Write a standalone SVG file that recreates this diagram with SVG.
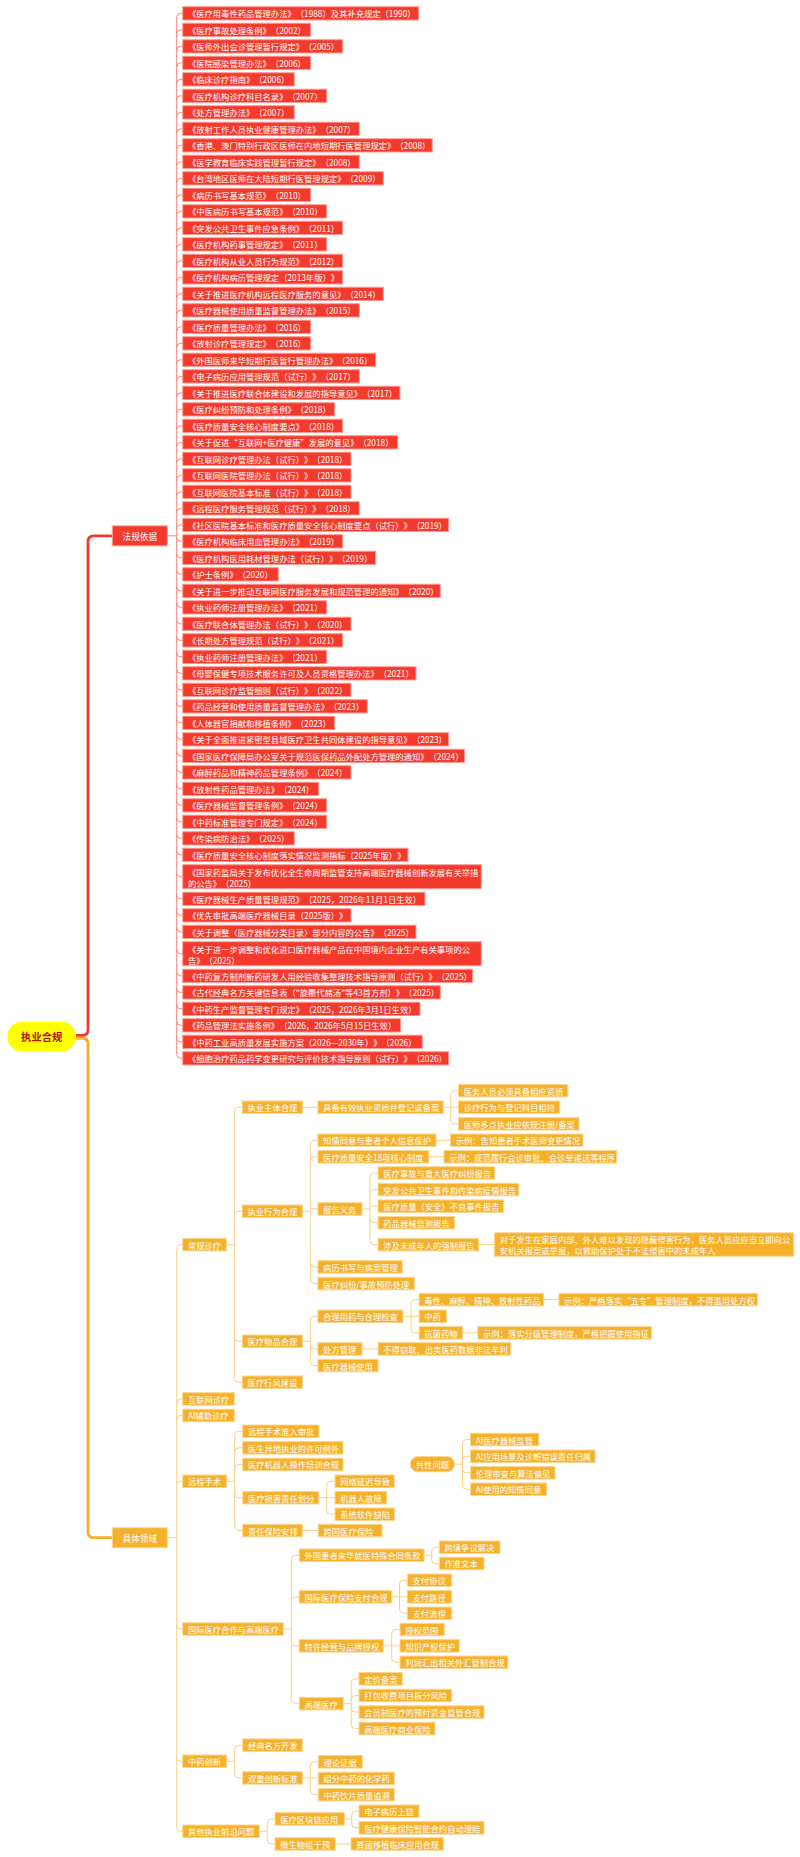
<svg xmlns="http://www.w3.org/2000/svg" width="800" height="1857" viewBox="0 0 800 1857">
<style>
.rn{fill:#f43a2d;stroke:#fb9e97;stroke-width:1}
.yn{fill:#f6b12c;stroke:#fbd690;stroke-width:1}
text{font-family:"Noto Sans CJK SC","Noto Sans",sans-serif;font-size:8.3px;fill:#fff;dominant-baseline:central;text-spacing-trim:space-all;font-feature-settings:"halt" 0,"chws" 0}
.l1{font-size:8.6px;text-anchor:middle}
.rt{font-size:10.3px;font-weight:bold;fill:#b3121b;text-anchor:middle}
.cr{fill:none;stroke:#f6857c;stroke-width:1}
.cy{fill:none;stroke:#fbd085;stroke-width:1}
</style>
<rect width="800" height="1857" fill="#fff"/>
<g id="connectors">
<path d="M76,1035.5H82Q88,1035.5 88,1029.5V541.85Q88,535.85 94,535.85H112.3" fill="none" stroke="#f03a2c" stroke-width="2.8"/>
<path d="M76,1038H82Q88,1038 88,1044V1531.7Q88,1537.7 94,1537.7H112.3" fill="none" stroke="#f5ae2a" stroke-width="2.8"/>
<path class="cr" d="M167.3,535.85H176.7M176.7,17.35V1054.35
M176.7,17.35q0,-4 4,-4h2M176.7,33.850q0,-4 4,-4h2M176.7,50.35q0,-4 4,-4h2M176.7,66.85q0,-4 4,-4h2M176.7,83.35q0,-4 4,-4h2M176.7,99.85q0,-4 4,-4h2M176.7,116.35q0,-4 4,-4h2M176.7,132.85q0,-4 4,-4h2M176.7,149.35q0,-4 4,-4h2M176.7,165.85q0,-4 4,-4h2M176.7,182.35q0,-4 4,-4h2M176.7,198.85q0,-4 4,-4h2M176.7,215.35q0,-4 4,-4h2M176.7,231.85q0,-4 4,-4h2M176.7,248.35q0,-4 4,-4h2M176.7,264.85q0,-4 4,-4h2M176.7,281.35q0,-4 4,-4h2M176.7,297.85q0,-4 4,-4h2M176.7,314.35q0,-4 4,-4h2M176.7,330.85q0,-4 4,-4h2M176.7,347.35q0,-4 4,-4h2M176.7,363.85q0,-4 4,-4h2M176.7,380.35q0,-4 4,-4h2M176.7,396.85q0,-4 4,-4h2M176.7,413.35q0,-4 4,-4h2M176.7,429.85q0,-4 4,-4h2M176.7,446.35q0,-4 4,-4h2M176.7,462.85q0,-4 4,-4h2M176.7,479.35q0,-4 4,-4h2M176.7,495.85q0,-4 4,-4h2M176.7,512.35q0,-4 4,-4h2M176.7,528.85q0,-4 4,-4h2
M176.7,537.35q0,4 4,4h2M176.7,553.85q0,4 4,4h2M176.7,570.35q0,4 4,4h2M176.7,586.85q0,4 4,4h2M176.7,603.35q0,4 4,4h2M176.7,619.85q0,4 4,4h2M176.7,636.35q0,4 4,4h2M176.7,652.85q0,4 4,4h2M176.7,669.35q0,4 4,4h2M176.7,685.85q0,4 4,4h2M176.7,702.35q0,4 4,4h2M176.7,718.85q0,4 4,4h2M176.7,735.35q0,4 4,4h2M176.7,751.85q0,4 4,4h2M176.7,768.35q0,4 4,4h2M176.7,784.85q0,4 4,4h2M176.7,801.35q0,4 4,4h2M176.7,817.85q0,4 4,4h2M176.7,834.35q0,4 4,4h2M176.7,850.85q0,4 4,4h2M176.7,872.7q0,4 4,4h2M176.7,894.85q0,4 4,4h2M176.7,911.35q0,4 4,4h2M176.7,927.85q0,4 4,4h2M176.7,949.7q0,4 4,4h2M176.7,971.85q0,4 4,4h2M176.7,988.35q0,4 4,4h2M176.7,1004.85q0,4 4,4h2M176.7,1021.35q0,4 4,4h2M176.7,1037.85q0,4 4,4h2M176.7,1054.35q0,4 4,4h2"/>
<path class="cy" d="M167.3,1537.7H176.7M176.7,1248.65V1827.25M176.7,1248.65q0,-4 4,-4H182.7M176.7,1402.95q0,-4 4,-4H182.7M176.7,1419.45q0,-4 4,-4H182.7M176.7,1485.25q0,-4 4,-4H182.7M176.7,1625.05q0,4 4,4H182.7M176.7,1757.25q0,4 4,4H182.7M176.7,1827.25q0,4 4,4H182.7
M226.3,1244.65H234.3M234.3,1111.25V1378.25M234.3,1111.25q0,-4 4,-4H242.3M234.3,1215.25q0,-4 4,-4H242.3M234.3,1337.25q0,4 4,4H242.3M234.3,1378.25q0,4 4,4H242.3
M302.6,1107.25H317.9
M443.2,1107.25H458.5M450.8,1094.65V1119.85M450.8,1094.65q0,-4 4,-4H458.5M450.8,1119.85q0,4 4,4H458.5
M302.6,1211.25H310.3M310.3,1144.25V1279.55M310.3,1144.25q0,-4 4,-4H317.9M310.3,1160.75q0,-4 4,-4H317.9M310.3,1208.95H317.9M310.3,1262.95q0,4 4,4H317.9M310.3,1279.55q0,4 4,4H317.9
M436,1140.25H450.5M428.8,1156.75H444
M362,1208.95H370M370,1176.95V1240.65M370,1176.95q0,-4 4,-4H378.1M370,1193.55q0,-4 4,-4H378.1M370,1206.15H378.1M370,1218.75q0,4 4,4H378.1M370,1240.65q0,4 4,4H378.1
M478.6,1244.65H494.6
M302.6,1341.25H310.3M310.3,1320.25V1361.55M310.3,1320.25q0,-4 4,-4H317.9M310.3,1344.95q0,4 4,4H317.9M310.3,1361.55q0,4 4,4H317.9
M403,1316.25H419.1M411,1303.65V1328.85M411,1303.65q0,-4 4,-4H419.1M411,1328.85q0,4 4,4H419.1
M543.7,1299.65H558.9M462.5,1332.85H477.8M362,1348.95H378.1
M226.7,1481.25H234.7M234.7,1435.25V1526.55M234.7,1435.25q0,-4 4,-4H242.7M234.7,1451.85q0,-4 4,-4H242.7M234.7,1468.45q0,-4 4,-4H242.7M234.7,1493.75q0,4 4,4H242.7M234.7,1526.55q0,4 4,4H242.7
M318.7,1497.75H335M326.8,1485.25V1510.25M326.8,1485.25q0,-4 4,-4H335M326.8,1510.25q0,4 4,4H335
M302.3,1530.55H318.3
M454.5,1464.2H462.5M462.5,1443.55V1485.25M462.5,1443.55q0,-4 4,-4H470.5M462.5,1460.25q0,-4 4,-4H470.5M462.5,1468.85q0,4 4,4H470.5M462.5,1485.25q0,4 4,4H470.5
M283.3,1629.05H291.3M291.3,1559.25V1699.65M291.3,1559.25q0,-4 4,-4H299.3M291.3,1600.85q0,-4 4,-4H299.3M291.3,1641.85q0,4 4,4H299.3M291.3,1699.65q0,4 4,4H299.3
M424,1555.25H431.7M431.7,1551.25V1559.45M431.7,1551.25q0,-4 4,-4H439.3M431.7,1559.45q0,4 4,4H439.3
M391.7,1596.85H407.3M399.5,1584.25V1609.25M399.5,1584.25q0,-4 4,-4H407.3M399.5,1609.25q0,4 4,4H407.3
M383.3,1645.85H400M391.7,1633.55V1658.25M391.7,1633.55q0,-4 4,-4H400M391.7,1658.25q0,4 4,4H400
M343.3,1703.65H351.2M351.2,1682.85V1724.55M351.2,1682.85q0,-4 4,-4H359M351.2,1699.45q0,-4 4,-4H359M351.2,1708.05q0,4 4,4H359M351.2,1724.55q0,4 4,4H359
M226.7,1761.25H234.7M234.7,1749.15V1773.95M234.7,1749.15q0,-4 4,-4H242.7M234.7,1773.95q0,4 4,4H242.7
M302.3,1777.95H318.3M310.3,1765.85V1790.65M310.3,1765.85q0,-4 4,-4H318.3M310.3,1790.65q0,4 4,4H318.3
M259.3,1831.25H267.2M267.2,1822.95V1839.95M267.2,1822.95q0,-4 4,-4H275M267.2,1839.95q0,4 4,4H275
M344.3,1818.95H351.7M351.7,1815.25V1823.85M351.7,1815.25q0,-4 4,-4H359M351.7,1823.85q0,4 4,4H359
M335.3,1843.95H351"/>
</g>
<g id="root"><rect x="7.3" y="1021.7" width="68.7" height="30" rx="15" fill="#ffff00"/><text class="rt" x="41.7" y="1036.7">执业合规</text></g>
<g id="fagui"><rect class="rn" x="112.3" y="525.85" width="55" height="20"/><text class="l1" x="139.8" y="535.85">法规依据</text></g>
<g id="juti"><rect class="yn" x="112.3" y="1527.7" width="55" height="20"/><text class="l1" x="139.8" y="1537.7">具体领域</text></g>
<g id="r1"><rect class="rn" x="182.7" y="6.7" width="236" height="13.3"/><text x="187.9" y="13.35">《医疗用毒性药品管理办法》（1988）及其补充规定（1990）</text></g>
<g id="r2"><rect class="rn" x="182.7" y="23.2" width="128" height="13.3"/><text x="187.9" y="29.85">《医疗事故处理条例》（2002）</text></g>
<g id="r3"><rect class="rn" x="182.7" y="39.7" width="160" height="13.3"/><text x="187.9" y="46.35">《医师外出会诊管理暂行规定》（2005）</text></g>
<g id="r4"><rect class="rn" x="182.7" y="56.2" width="128" height="13.3"/><text x="187.9" y="62.85">《医院感染管理办法》（2006）</text></g>
<g id="r5"><rect class="rn" x="182.7" y="72.7" width="111.6" height="13.3"/><text x="187.9" y="79.35">《临床诊疗指南》（2006）</text></g>
<g id="r6"><rect class="rn" x="182.7" y="89.2" width="144" height="13.3"/><text x="187.9" y="95.85">《医疗机构诊疗科目名录》（2007）</text></g>
<g id="r7"><rect class="rn" x="182.7" y="105.7" width="111.6" height="13.3"/><text x="187.9" y="112.35">《处方管理办法》（2007）</text></g>
<g id="r8"><rect class="rn" x="182.7" y="122.2" width="176.6" height="13.3"/><text x="187.9" y="128.85">《放射工作人员执业健康管理办法》（2007）</text></g>
<g id="r9"><rect class="rn" x="182.7" y="138.7" width="249.6" height="13.3"/><text x="187.9" y="145.35">《香港、澳门特别行政区医师在内地短期行医管理规定》（2008）</text></g>
<g id="r10"><rect class="rn" x="182.7" y="155.2" width="176.6" height="13.3"/><text x="187.9" y="161.85">《医学教育临床实践管理暂行规定》（2008）</text></g>
<g id="r11"><rect class="rn" x="182.7" y="171.7" width="200.6" height="13.3"/><text x="187.9" y="178.35">《台湾地区医师在大陆短期行医管理规定》（2009）</text></g>
<g id="r12"><rect class="rn" x="182.7" y="188.2" width="128" height="13.3"/><text x="187.9" y="194.85">《病历书写基本规范》（2010）</text></g>
<g id="r13"><rect class="rn" x="182.7" y="204.7" width="144" height="13.3"/><text x="187.9" y="211.35">《中医病历书写基本规范》（2010）</text></g>
<g id="r14"><rect class="rn" x="182.7" y="221.2" width="160" height="13.3"/><text x="187.9" y="227.85">《突发公共卫生事件应急条例》（2011）</text></g>
<g id="r15"><rect class="rn" x="182.7" y="237.7" width="144" height="13.3"/><text x="187.9" y="244.35">《医疗机构药事管理规定》（2011）</text></g>
<g id="r16"><rect class="rn" x="182.7" y="254.2" width="160" height="13.3"/><text x="187.9" y="260.85">《医疗机构从业人员行为规范》（2012）</text></g>
<g id="r17"><rect class="rn" x="182.7" y="270.7" width="160" height="13.3"/><text x="187.9" y="277.35">《医疗机构病历管理规定（2013年版）》</text></g>
<g id="r18"><rect class="rn" x="182.7" y="287.2" width="200.6" height="13.3"/><text x="187.9" y="293.85">《关于推进医疗机构远程医疗服务的意见》（2014）</text></g>
<g id="r19"><rect class="rn" x="182.7" y="303.7" width="176.6" height="13.3"/><text x="187.9" y="310.35">《医疗器械使用质量监督管理办法》（2015）</text></g>
<g id="r20"><rect class="rn" x="182.7" y="320.2" width="128" height="13.3"/><text x="187.9" y="326.85">《医疗质量管理办法》（2016）</text></g>
<g id="r21"><rect class="rn" x="182.7" y="336.7" width="128" height="13.3"/><text x="187.9" y="343.35">《放射诊疗管理规定》（2016）</text></g>
<g id="r22"><rect class="rn" x="182.7" y="353.2" width="193" height="13.3"/><text x="187.9" y="359.85">《外国医师来华短期行医暂行管理办法》（2016）</text></g>
<g id="r23"><rect class="rn" x="182.7" y="369.7" width="176.6" height="13.3"/><text x="187.9" y="376.35">《电子病历应用管理规范（试行）》（2017）</text></g>
<g id="r24"><rect class="rn" x="182.7" y="386.2" width="217.3" height="13.3"/><text x="187.9" y="392.85">《关于推进医疗联合体建设和发展的指导意见》（2017）</text></g>
<g id="r25"><rect class="rn" x="182.7" y="402.7" width="152" height="13.3"/><text x="187.9" y="409.35">《医疗纠纷预防和处理条例》（2018）</text></g>
<g id="r26"><rect class="rn" x="182.7" y="419.2" width="160" height="13.3"/><text x="187.9" y="425.85">《医疗质量安全核心制度要点》（2018）</text></g>
<g id="r27"><rect class="rn" x="182.7" y="435.7" width="215" height="13.3"/><text x="187.9" y="442.35">《关于促进“互联网+医疗健康”发展的意见》（2018）</text></g>
<g id="r28"><rect class="rn" x="182.7" y="452.2" width="168.3" height="13.3"/><text x="187.9" y="458.85">《互联网诊疗管理办法（试行）》（2018）</text></g>
<g id="r29"><rect class="rn" x="182.7" y="468.7" width="168.3" height="13.3"/><text x="187.9" y="475.35">《互联网医院管理办法（试行）》（2018）</text></g>
<g id="r30"><rect class="rn" x="182.7" y="485.2" width="168.3" height="13.3"/><text x="187.9" y="491.85">《互联网医院基本标准（试行）》（2018）</text></g>
<g id="r31"><rect class="rn" x="182.7" y="501.7" width="176.6" height="13.3"/><text x="187.9" y="508.35">《远程医疗服务管理规范（试行）》（2018）</text></g>
<g id="r32"><rect class="rn" x="182.7" y="518.2" width="266" height="13.3"/><text x="187.9" y="524.85">《社区医院基本标准和医疗质量安全核心制度要点（试行）》（2019）</text></g>
<g id="r33"><rect class="rn" x="182.7" y="534.7" width="160" height="13.3"/><text x="187.9" y="541.35">《医疗机构临床用血管理办法》（2019）</text></g>
<g id="r34"><rect class="rn" x="182.7" y="551.2" width="193" height="13.3"/><text x="187.9" y="557.85">《医疗机构医用耗材管理办法（试行）》（2019）</text></g>
<g id="r35"><rect class="rn" x="182.7" y="567.7" width="95.6" height="13.3"/><text x="187.9" y="574.35">《护士条例》（2020）</text></g>
<g id="r36"><rect class="rn" x="182.7" y="584.2" width="257.6" height="13.3"/><text x="187.9" y="590.85">《关于进一步推动互联网医疗服务发展和规范管理的通知》（2020）</text></g>
<g id="r37"><rect class="rn" x="182.7" y="600.7" width="144" height="13.3"/><text x="187.9" y="607.35">《执业药师注册管理办法》（2021）</text></g>
<g id="r38"><rect class="rn" x="182.7" y="617.2" width="168.3" height="13.3"/><text x="187.9" y="623.85">《医疗联合体管理办法（试行）》（2020）</text></g>
<g id="r39"><rect class="rn" x="182.7" y="633.7" width="160" height="13.3"/><text x="187.9" y="640.35">《长期处方管理规范（试行）》（2021）</text></g>
<g id="r40"><rect class="rn" x="182.7" y="650.2" width="144" height="13.3"/><text x="187.9" y="656.85">《执业药师注册管理办法》（2021）</text></g>
<g id="r41"><rect class="rn" x="182.7" y="666.7" width="233.3" height="13.3"/><text x="187.9" y="673.35">《母婴保健专项技术服务许可及人员资格管理办法》（2021）</text></g>
<g id="r42"><rect class="rn" x="182.7" y="683.2" width="168.3" height="13.3"/><text x="187.9" y="689.85">《互联网诊疗监管细则（试行）》（2022）</text></g>
<g id="r43"><rect class="rn" x="182.7" y="699.7" width="184.6" height="13.3"/><text x="187.9" y="706.35">《药品经营和使用质量监督管理办法》（2023）</text></g>
<g id="r44"><rect class="rn" x="182.7" y="716.2" width="152" height="13.3"/><text x="187.9" y="722.85">《人体器官捐献和移植条例》（2023）</text></g>
<g id="r45"><rect class="rn" x="182.7" y="732.7" width="266" height="13.3"/><text x="187.9" y="739.35">《关于全面推进紧密型县域医疗卫生共同体建设的指导意见》（2023）</text></g>
<g id="r46"><rect class="rn" x="182.7" y="749.2" width="282" height="13.3"/><text x="187.9" y="755.85">《国家医疗保障局办公室关于规范医保药品外配处方管理的通知》（2024）</text></g>
<g id="r47"><rect class="rn" x="182.7" y="765.7" width="168.3" height="13.3"/><text x="187.9" y="772.35">《麻醉药品和精神药品管理条例》（2024）</text></g>
<g id="r48"><rect class="rn" x="182.7" y="782.2" width="136" height="13.3"/><text x="187.9" y="788.85">《放射性药品管理办法》（2024）</text></g>
<g id="r49"><rect class="rn" x="182.7" y="798.7" width="144" height="13.3"/><text x="187.9" y="805.35">《医疗器械监督管理条例》（2024）</text></g>
<g id="r50"><rect class="rn" x="182.7" y="815.2" width="144" height="13.3"/><text x="187.9" y="821.85">《中药标准管理专门规定》（2024）</text></g>
<g id="r51"><rect class="rn" x="182.7" y="831.7" width="111.6" height="13.3"/><text x="187.9" y="838.35">《传染病防治法》（2025）</text></g>
<g id="r52"><rect class="rn" x="182.7" y="848.2" width="225.3" height="13.3"/><text x="187.9" y="854.85">《医疗质量安全核心制度落实情况监测指标（2025年版）》</text></g>
<g id="r53"><rect class="rn" x="182.7" y="864.7" width="298.6" height="24"/><text x="187.9" y="871.5">《国家药监局关于发布优化全生命周期监管支持高端医疗器械创新发展有关举措</text><text x="187.9" y="882.6">的公告》（2025）</text></g>
<g id="r54"><rect class="rn" x="182.7" y="892.2" width="242.3" height="13.3"/><text x="187.9" y="898.85">《医疗器械生产质量管理规范》（2025，2026年11月1日生效）</text></g>
<g id="r55"><rect class="rn" x="182.7" y="908.7" width="168.3" height="13.3"/><text x="187.9" y="915.35">《优先审批高端医疗器械目录（2025版）》</text></g>
<g id="r56"><rect class="rn" x="182.7" y="925.2" width="233.3" height="13.3"/><text x="187.9" y="931.85">《关于调整〈医疗器械分类目录〉部分内容的公告》（2025）</text></g>
<g id="r57"><rect class="rn" x="182.7" y="941.7" width="298.6" height="24"/><text x="187.9" y="948.5">《关于进一步调整和优化进口医疗器械产品在中国境内企业生产有关事项的公</text><text x="187.9" y="959.6">告》（2025）</text></g>
<g id="r58"><rect class="rn" x="182.7" y="969.2" width="290" height="13.3"/><text x="187.9" y="975.85">《中药复方制剂新药研发人用经验收集整理技术指导原则（试行）》（2025）</text></g>
<g id="r59"><rect class="rn" x="182.7" y="985.7" width="257.6" height="13.3"/><text x="187.9" y="992.35">《古代经典名方关键信息表（"旋覆代赭汤"等43首方剂）》（2025）</text></g>
<g id="r60"><rect class="rn" x="182.7" y="1002.2" width="237.3" height="13.3"/><text x="187.9" y="1008.85">《中药生产监督管理专门规定》（2025，2026年3月1日生效）</text></g>
<g id="r61"><rect class="rn" x="182.7" y="1018.7" width="218" height="13.3"/><text x="187.9" y="1025.35">《药品管理法实施条例》（2026，2026年5月15日生效）</text></g>
<g id="r62"><rect class="rn" x="182.7" y="1035.2" width="239.6" height="13.3"/><text x="187.9" y="1041.85">《中药工业高质量发展实施方案（2026—2030年）》（2026）</text></g>
<g id="r63"><rect class="rn" x="182.7" y="1051.7" width="266" height="13.3"/><text x="187.9" y="1058.35">《细胞治疗药品药学变更研究与评价技术指导原则（试行）》（2026）</text></g>

<g id="y_cgzl"><rect class="yn" x="182.7" y="1238.4" width="43.6" height="12.5"/><text x="187.9" y="1244.65">常规诊疗</text></g>
<g id="y_hlw"><rect class="yn" x="182.7" y="1392.7" width="51.6" height="12.5"/><text x="187.9" y="1398.95">互联网诊疗</text></g>
<g id="y_ai"><rect class="yn" x="182.7" y="1409.2" width="51.6" height="12.5"/><text x="187.9" y="1415.45">AI辅助诊疗</text></g>
<g id="y_ycss"><rect class="yn" x="182.7" y="1475" width="44" height="12.5"/><text x="187.9" y="1481.25">远程手术</text></g>
<g id="y_gjyl"><rect class="yn" x="182.7" y="1622.8" width="100.6" height="12.5"/><text x="187.9" y="1629.05">国际医疗合作与高端医疗</text></g>
<g id="y_zycx"><rect class="yn" x="182.7" y="1755" width="44" height="12.5"/><text x="187.9" y="1761.25">中药创新</text></g>
<g id="y_qt"><rect class="yn" x="182.7" y="1825" width="76.6" height="12.5"/><text x="187.9" y="1831.25">其他执业前沿问题</text></g>

<g id="y_zyzt"><rect class="yn" x="242.3" y="1101" width="60.3" height="12.5"/><text x="247.5" y="1107.25">执业主体合规</text></g>
<g id="y_zyxw"><rect class="yn" x="242.3" y="1205" width="60.3" height="12.5"/><text x="247.5" y="1211.25">执业行为合规</text></g>
<g id="y_ylwp"><rect class="yn" x="242.3" y="1335" width="60.3" height="12.5"/><text x="247.5" y="1341.25">医疗物品合规</text></g>
<g id="y_ylhf"><rect class="yn" x="242.3" y="1376" width="60.3" height="12.5"/><text x="247.5" y="1382.25">医疗行风建设</text></g>

<g id="y_jbyx"><rect class="yn" x="317.9" y="1101" width="125.3" height="12.5"/><text x="323.1" y="1107.25">具备有效执业资质并登记或备案</text></g>
<g id="y_ywry"><rect class="yn" x="458.5" y="1084.4" width="109.3" height="12.5"/><text x="463.7" y="1090.65">医务人员必须具备相应资质</text></g>
<g id="y_zlxw"><rect class="yn" x="458.5" y="1101" width="101.3" height="12.5"/><text x="463.7" y="1107.25">诊疗行为与登记科目相符</text></g>
<g id="y_ysdd"><rect class="yn" x="458.5" y="1117.6" width="120.5" height="12.5"/><text x="463.7" y="1123.85">医师多点执业应依规注册/备案</text></g>
<g id="y_zqty"><rect class="yn" x="317.9" y="1134" width="118.1" height="12.5"/><text x="323.1" y="1140.25">知情同意与患者个人信息保护</text></g>
<g id="y_sl1"><rect class="yn" x="450.5" y="1134" width="132.5" height="12.5"/><text x="455.7" y="1140.25">示例：告知患者手术医师变更情况</text></g>
<g id="y_18x"><rect class="yn" x="317.9" y="1150.5" width="110.9" height="12.5"/><text x="323.1" y="1156.75">医疗质量安全18项核心制度</text></g>
<g id="y_sl2"><rect class="yn" x="444" y="1150.5" width="172.8" height="12.5"/><text x="449.2" y="1156.75">示例：规范履行会诊审批、会诊单递送等程序，</text></g>
<g id="y_bgyw"><rect class="yn" x="317.9" y="1202.7" width="44.1" height="12.5"/><text x="323.1" y="1208.95">报告义务</text></g>
<g id="y_ylsg"><rect class="yn" x="378.1" y="1166.7" width="116.5" height="12.5"/><text x="383.3" y="1172.95">医疗事故与重大医疗纠纷报告</text></g>
<g id="y_tfgg"><rect class="yn" x="378.1" y="1183.3" width="140.7" height="12.5"/><text x="383.3" y="1189.55">突发公共卫生事件和传染病疫情报告</text></g>
<g id="y_blsj"><rect class="yn" x="378.1" y="1199.9" width="125.4" height="12.5"/><text x="383.3" y="1206.15">医疗质量（安全）不良事件报告</text></g>
<g id="y_ypqx"><rect class="yn" x="378.1" y="1216.5" width="76.4" height="12.5"/><text x="383.3" y="1222.75">药品器械监测报告</text></g>
<g id="y_wcn"><rect class="yn" x="378.1" y="1238.4" width="100.5" height="12.5"/><text x="383.3" y="1244.65">涉及未成年人的强制报告</text></g>
<g id="y_dyfs"><rect class="yn" x="494.6" y="1232.8" width="299" height="23.5"/><text x="499.8" y="1238.9">对于发生在家庭内部、外人难以发现的隐蔽侵害行为，医务人员应应当立即向公</text><text x="499.8" y="1250.3">安机关报案或举报，以救助保护处于不法侵害中的未成年人</text></g>
<g id="y_blsx"><rect class="yn" x="317.9" y="1260.7" width="84.3" height="12.5"/><text x="323.1" y="1266.95">病历书写与病案管理</text></g>
<g id="y_yljf"><rect class="yn" x="317.9" y="1277.3" width="96.4" height="12.5"/><text x="323.1" y="1283.55">医疗纠纷/事故预防处理</text></g>

<g id="y_hlyy"><rect class="yn" x="317.9" y="1310" width="85.1" height="12.5"/><text x="323.1" y="1316.25">合理用药与合理检查</text></g>
<g id="y_dxmz"><rect class="yn" x="419.1" y="1293.4" width="124.6" height="12.5"/><text x="424.3" y="1299.65">毒性、麻醉、精神、放射性药品</text></g>
<g id="y_sl3"><rect class="yn" x="558.9" y="1293.4" width="198.5" height="12.5"/><text x="564.1" y="1299.65">示例：严格落实“五专”管理制度，不得滥用处方权</text></g>
<g id="y_zy"><rect class="yn" x="419.1" y="1310" width="27.3" height="12.5"/><text x="424.3" y="1316.25">中药</text></g>
<g id="y_kjyw"><rect class="yn" x="419.1" y="1326.6" width="43.4" height="12.5"/><text x="424.3" y="1332.85">抗菌药物</text></g>
<g id="y_sl4"><rect class="yn" x="477.8" y="1326.6" width="173.6" height="12.5"/><text x="483" y="1332.85">示例：落实分级管理制度，严格把握使用指征</text></g>
<g id="y_cfgl"><rect class="yn" x="317.9" y="1342.7" width="44.1" height="12.5"/><text x="323.1" y="1348.95">处方管理</text></g>
<g id="y_bdqq"><rect class="yn" x="378.1" y="1342.7" width="132.6" height="12.5"/><text x="383.3" y="1348.95">不得窃取、出卖医药数据非法牟利</text></g>
<g id="y_ylqx"><rect class="yn" x="317.9" y="1359.3" width="60.2" height="12.5"/><text x="323.1" y="1365.55">医疗器械使用</text></g>

<g id="y_zrsp"><rect class="yn" x="242.7" y="1425" width="76.2" height="12.5"/><text x="247.9" y="1431.25">远程手术准入审批</text></g>
<g id="y_ysyd"><rect class="yn" x="242.7" y="1441.6" width="100.3" height="12.5"/><text x="247.9" y="1447.85">医生异地执业的许可例外</text></g>
<g id="y_jqr"><rect class="yn" x="242.7" y="1458.2" width="100.3" height="12.5"/><text x="247.9" y="1464.45">医疗机器人操作培训合规</text></g>
<g id="y_shzr"><rect class="yn" x="242.7" y="1491.5" width="76" height="12.5"/><text x="247.9" y="1497.75">医疗损害责任划分</text></g>
<g id="y_wlyc"><rect class="yn" x="335" y="1475" width="59.3" height="12.5"/><text x="340.2" y="1481.25">网络延迟导致</text></g>
<g id="y_jqrgz"><rect class="yn" x="335" y="1491.5" width="51.7" height="12.5"/><text x="340.2" y="1497.75">机器人故障</text></g>
<g id="y_xtrj"><rect class="yn" x="335" y="1508" width="59.3" height="12.5"/><text x="340.2" y="1514.25">系统软件缺陷</text></g>
<g id="y_zrbx"><rect class="yn" x="242.7" y="1524.3" width="59.6" height="12.5"/><text x="247.9" y="1530.55">责任保险安排</text></g>
<g id="y_kgbx"><rect class="yn" x="318.3" y="1524.3" width="63.7" height="12.5"/><text x="323.5" y="1530.55">跨国医疗保险</text></g>

<g id="y_gxwt"><rect class="yn" x="410.3" y="1456.6" width="44.2" height="15.2" rx="7.6"/><text x="432.4" y="1464.2" text-anchor="middle">共性问题</text></g>
<g id="y_aiqx"><rect class="yn" x="470.5" y="1433.3" width="68.3" height="12.5"/><text x="475.7" y="1439.55">AI医疗器械监管</text></g>
<g id="y_aicj"><rect class="yn" x="470.5" y="1450" width="124.6" height="12.5"/><text x="475.7" y="1456.25">AI应用场景及诊断错误责任归属</text></g>
<g id="y_llsc"><rect class="yn" x="470.5" y="1466.6" width="84.5" height="12.5"/><text x="475.7" y="1472.85">伦理审查与算法偏见</text></g>
<g id="y_aizq"><rect class="yn" x="470.5" y="1483" width="76.2" height="12.5"/><text x="475.7" y="1489.25">AI使用的知情同意</text></g>

<g id="y_wghz"><rect class="yn" x="299.3" y="1549" width="124.7" height="12.5"/><text x="304.5" y="1555.25">外国患者来华就医特殊合同条款</text></g>
<g id="y_kjzy"><rect class="yn" x="439.3" y="1541" width="60.7" height="12.5"/><text x="444.5" y="1547.25">跨境争议解决</text></g>
<g id="y_zzwb"><rect class="yn" x="439.3" y="1557.2" width="44.7" height="12.5"/><text x="444.5" y="1563.45">作准文本</text></g>
<g id="y_gjbx"><rect class="yn" x="299.3" y="1590.6" width="92.4" height="12.5"/><text x="304.5" y="1596.85">国际医疗保险支付合规</text></g>
<g id="y_zfxy"><rect class="yn" x="407.3" y="1574" width="44.4" height="12.5"/><text x="412.5" y="1580.25">支付协议</text></g>
<g id="y_zflj"><rect class="yn" x="407.3" y="1590.6" width="44.4" height="12.5"/><text x="412.5" y="1596.85">支付路径</text></g>
<g id="y_zflc"><rect class="yn" x="407.3" y="1607" width="44.4" height="12.5"/><text x="412.5" y="1613.25">支付流程</text></g>
<g id="y_txjy"><rect class="yn" x="299.3" y="1639.6" width="84" height="12.5"/><text x="304.5" y="1645.85">特许经营与品牌授权</text></g>
<g id="y_sqfw"><rect class="yn" x="400" y="1623.3" width="44.3" height="12.5"/><text x="405.2" y="1629.55">授权范围</text></g>
<g id="y_zscq"><rect class="yn" x="400" y="1639.6" width="59.3" height="12.5"/><text x="405.2" y="1645.85">知识产权保护</text></g>
<g id="y_lrhc"><rect class="yn" x="400" y="1656" width="107.7" height="12.5"/><text x="405.2" y="1662.25">利润汇出相关外汇管制合规</text></g>
<g id="y_gdyl"><rect class="yn" x="299.3" y="1697.4" width="44" height="12.5"/><text x="304.5" y="1703.65">高端医疗</text></g>
<g id="y_djba"><rect class="yn" x="359" y="1672.6" width="43.3" height="12.5"/><text x="364.2" y="1678.85">定价备案</text></g>
<g id="y_dbsf"><rect class="yn" x="359" y="1689.2" width="92.7" height="12.5"/><text x="364.2" y="1695.45">打包收费项目拆分风险</text></g>
<g id="y_hyz"><rect class="yn" x="359" y="1705.8" width="125" height="12.5"/><text x="364.2" y="1712.05">会员制医疗的预付资金监管合规</text></g>
<g id="y_gdsy"><rect class="yn" x="359" y="1722.3" width="76" height="12.5"/><text x="364.2" y="1728.55">高端医疗商业保险</text></g>

<g id="y_jdmf"><rect class="yn" x="242.7" y="1738.9" width="59.6" height="12.5"/><text x="247.9" y="1745.15">经典名方开发</text></g>
<g id="y_scbz"><rect class="yn" x="242.7" y="1771.7" width="59.6" height="12.5"/><text x="247.9" y="1777.95">双重创新标准</text></g>
<g id="y_llzj"><rect class="yn" x="318.3" y="1755.6" width="44" height="12.5"/><text x="323.5" y="1761.85">理论证据</text></g>
<g id="y_zfzy"><rect class="yn" x="318.3" y="1772.2" width="76" height="12.5"/><text x="323.5" y="1778.45">组分中药的化学药</text></g>
<g id="y_zyyp"><rect class="yn" x="318.3" y="1788.4" width="76" height="12.5"/><text x="323.5" y="1794.65">中药饮片质量追溯</text></g>

<g id="y_qkl"><rect class="yn" x="275" y="1812.7" width="69.3" height="12.5"/><text x="280.2" y="1818.95">医疗区块链应用</text></g>
<g id="y_dzbl"><rect class="yn" x="359" y="1805" width="60" height="12.5"/><text x="364.2" y="1811.25">电子病历上链</text></g>
<g id="y_znhy"><rect class="yn" x="359" y="1821.6" width="125" height="12.5"/><text x="364.2" y="1827.85">医疗健康保险智能合约自动理赔</text></g>
<g id="y_wsw"><rect class="yn" x="275" y="1837.7" width="60.3" height="12.5"/><text x="280.2" y="1843.95">微生物组干预</text></g>
<g id="y_fjyz"><rect class="yn" x="351" y="1837.7" width="92.3" height="12.5"/><text x="356.2" y="1843.95">粪菌移植临床应用合规</text></g>
</svg>
